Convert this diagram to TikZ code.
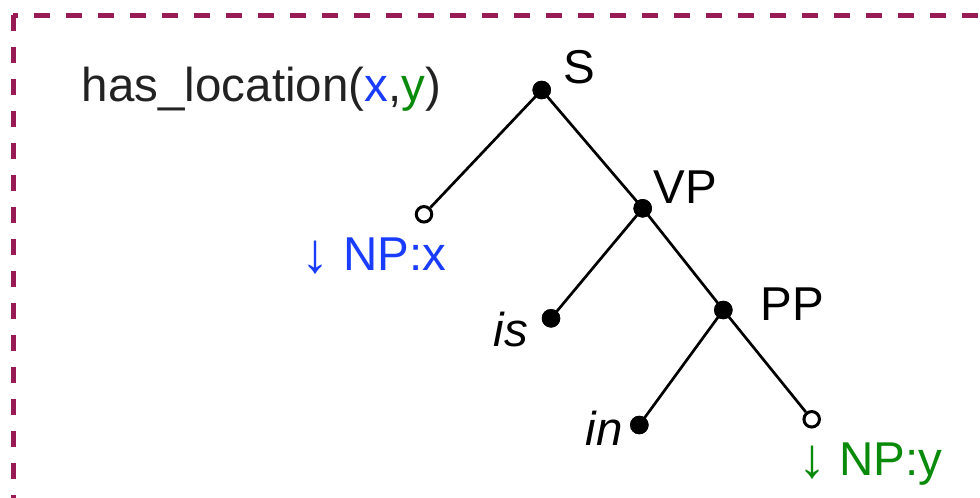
\documentclass[tikz,border=0pt]{standalone}
\usepackage{fontspec}
\setmainfont{Liberation Sans}
\definecolor{frame}{RGB}{152,27,86}
\definecolor{varx}{RGB}{25,60,255}
\definecolor{vary}{RGB}{10,138,10}
\definecolor{txt}{RGB}{34,34,34}
\newcommand{\darr}{\raisebox{-2pt}{\fontsize{56}{60}\selectfont\bfseries ↓}}
\begin{document}
\begin{tikzpicture}[x=1pt,y=-1pt,
  inner dot/.style={circle,fill=black,inner sep=0pt,minimum size=18.5pt},
  open dot/.style={circle,draw=black,fill=white,line width=3pt,inner sep=0pt,minimum size=15.5pt},
  edge line/.style={line width=2.7pt,black},
  lab/.style={inner sep=0pt,anchor=base,font=\fontsize{47.5}{52}\selectfont},
  border/.style={draw=frame,line width=5pt}]
\useasboundingbox (0,0) rectangle (980,498);
\clip (0,0) rectangle (980,498);
% frame
\draw[border,dash pattern=on 16pt off 16pt,dash phase=11pt] (13,15) -- (1000,15);
\draw[border,dash pattern=on 16pt off 16pt,dash phase=29.5pt] (13,12.5) -- (13,520);
% tree nodes
\node[inner dot] (S) at (541.7,90) {};
\node[open dot] (NPx) at (424,214.3) {};
\node[inner dot] (VP) at (642.7,208.3) {};
\node[inner dot] (is) at (551,318.3) {};
\node[inner dot] (PP) at (723.3,310) {};
\node[inner dot] (in) at (639.3,425) {};
\node[open dot] (NPy) at (811.7,419.3) {};
% edges
\draw[edge line] (S.center) -- (NPx);
\draw[edge line] (S.center) -- (VP.center);
\draw[edge line] (VP.center) -- (is.center);
\draw[edge line] (VP.center) -- (PP.center);
\draw[edge line] (PP.center) -- (in.center);
\draw[edge line] (PP.center) -- (NPy);
% redraw dots on top
\node[inner dot] at (S) {};
\node[inner dot] at (VP) {};
\node[inner dot] at (PP) {};
\node[inner dot] at (is) {};
\node[inner dot] at (in) {};
% labels
\node[lab,text=txt] (pred) at (261.5,101.7) {has\_location(\textcolor{varx}{x},\textcolor{vary}{y})};
\node[lab] (Slab) at (579,83.3) {S};
\node[lab] (VPlab) at (685,203.3) {VP};
\node[lab] (PPlab) at (792,320) {PP};
\node[lab,text=varx] (NPxlab) at (374,270) {\darr{} NP:x};
\node[lab,font=\fontsize{47.5}{52}\selectfont\itshape] (islab) at (511,346.7) {is};
\node[lab,font=\fontsize{47.5}{52}\selectfont\itshape] (inlab) at (604,445) {in};
\node[lab,text=vary] (NPylab) at (870.5,475) {\darr{} NP:y};
\end{tikzpicture}
\end{document}
